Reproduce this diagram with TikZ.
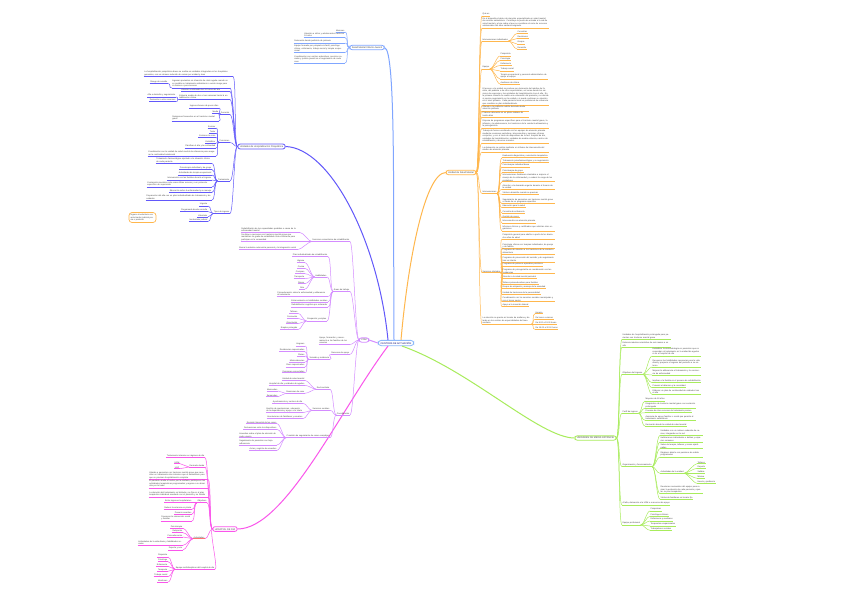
\documentclass[tikz,border=0pt]{standalone}
\usepackage{fontspec}
\newfontfamily\mapfont{Liberation Sans}
\definecolor{cSky}{RGB}{128,166,255}
\definecolor{cBlue}{RGB}{98,88,250}
\definecolor{cOrange}{RGB}{255,183,77}
\definecolor{cGreen}{RGB}{168,236,92}
\definecolor{cMagenta}{RGB}{250,85,235}
\definecolor{cViolet}{RGB}{212,140,255}
\definecolor{cRoot}{RGB}{140,185,250}
\definecolor{cInk}{RGB}{70,70,70}
\colorlet{br}{cSky}
\newcommand\leaffont{\mapfont\fontsize{2.1}{2.55}\selectfont}
\newcommand\topicfont{\mapfont\fontsize{2.4}{2.9}\selectfont}
\newcommand\lfL[5][]{%
  \node[leaf,anchor=south east,#1] (#3) at (#4) {#5};
  \draw[br,uline] (#3.south west) -- (#3.south east);
  \draw[br,link] (#2) .. controls +(-3.5,0) and +(3.5,0) .. (#3.south east);}
\newcommand\lfR[5][]{%
  \node[leaf,anchor=south west,#1] (#3) at (#4) {#5};
  \draw[br,uline] (#3.south west) -- (#3.south east);
  \draw[br,link] (#2) .. controls +(3.5,0) and +(-3.5,0) .. (#3.south west);}

\begin{document}
\begin{tikzpicture}[
  x=1pt,y=-1pt,
  leaf/.style={font=\leaffont,text=cInk,inner sep=0.45pt,align=left},
  tw/.style={text width=#1pt},
  uline/.style={line width=0.65pt},
  link/.style={line width=0.5pt},
  topic/.style={draw=#1,line width=0.8pt,rounded corners=2.2pt,fill=white,font=\topicfont,text=cInk,inner xsep=2pt,inner ysep=1.3pt},
  trunk/.style={line width=1pt}
]
  \fill[white] (0,0) rectangle (848,597);
  \useasboundingbox (0,0) rectangle (848,597);

  \node[draw=cRoot,line width=0.8pt,rounded corners=3pt,fill=white,font=\topicfont,text=blue!45!black,inner xsep=2.5pt,inner ysep=1.6pt] (root) at (396,343) {CENTROS DE ACTUACIÓN};
  \node[topic=cSky] (infantil) at (367,47.5) {Salud Mental Infanto-Juvenil};
  \node[topic=cBlue] (hosp) at (261.5,146.5) {Unidades de Hospitalización Psiquiátrica};
  \node[topic=cOrange] (usm) at (461,172.5) {Unidad de Salud Mental};
  \node[topic=cViolet] (csm) at (364,340) {CSM};
  \node[topic=cMagenta] (hdia) at (225,529) {HOSPITAL DE DÍA};
  \node[topic=cGreen] (mest) at (595.5,438) {UNIDADES DE MEDIA ESTANCIA};

  \draw[cSky,trunk] ([xshift=-2pt]root.north) .. controls (393,200) and (396,50) .. (infantil.east);
  \draw[cBlue,trunk] ([xshift=-8pt]root.north) .. controls (378,240) and (330,148) .. (hosp.east);
  \draw[cOrange,trunk] ([xshift=5pt]root.north) .. controls (408,260) and (425,173) .. (usm.west);
  \draw[cViolet,trunk] (root.west) .. controls (374,343) and (373,340) .. (csm.east);
  \draw[cMagenta,trunk] ([xshift=-8pt]root.south) .. controls (340,410) and (285,529) .. (hdia.east);
  \draw[cGreen,trunk] ([xshift=6pt]root.south) .. controls (470,370) and (540,438) .. (mest.west);

  % salud mental infanto-juvenil
  \colorlet{br}{cSky}
  \lfL{infantil.west}{inf1}{345,32}{Menores}
  \lfL[tw=40]{infantil.west}{inf2}{345,37.5}{Atención a niños y adolescentes hasta los 18 años}
  \lfL[tw=50]{infantil.west}{inf3}{345,43}{Derivación desde pediatría de primaria}
  \lfL[tw=50]{infantil.west}{inf4}{345,52.5}{Equipo formado por psiquiatra infantil, psicólogo clínico, enfermería, trabajo social y terapia ocupacional}
  \lfL[tw=50]{infantil.west}{inf5}{345,63}{Coordinación con centros educativos, servicios sociales y justicia juvenil en el seguimiento de cada caso}

  % hospitalizacion
  \colorlet{br}{cBlue}
  \lfL[tw=88]{hosp.west}{hos1}{233,76.5}{La hospitalización psiquiátrica breve se realiza en unidades integradas en los hospitales generales, con un número reducido de camas por unidad y área}
  \lfL[tw=57]{hosp.west}{hos2}{230,88}{Ingresan pacientes en situación de crisis aguda cuando no es posible su tratamiento ambulatorio o existe riesgo para sí mismos o para terceros}
  \lfL{hos2.south west}{hos2a}{168,83.5}{Riesgo de suicidio}
  \lfL[tw=48]{hosp.west}{hos3}{230,91.5}{Atención continuada las 24 horas del día}
  \lfL[tw=50]{hosp.west}{hos4}{230,99.5}{Estancia media de dos a tres semanas hasta la estabilización clínica}
  \lfL{hos4.south west}{hos4a}{176,97}{Alta a domicilio y seguimiento}
  \lfL{hos4.south west}{hos4b}{176,101.5}{Derivación a otros recursos}
  \lfL{hosp.west}{durac}{230,114.5}{Duración}
  \lfL{durac.south west}{dur1}{219,108}{Ingresos breves de pocos días}
  \lfL{durac.south west}{dur2}{219,113.5}{Media}
  \lfL[tw=46]{durac.south west}{dur3}{219,121}{Reingresos frecuentes en el trastorno mental grave}
  \lfL{hosp.west}{funcs}{230,142.5}{Funciones}
  \lfL{funcs.south west}{fun1}{216,128}{Evaluar}
  \lfL{funcs.south west}{fun2}{216,133}{Tratar}
  \lfL{funcs.south west}{fun3}{216,137.5}{Contener la crisis}
  \lfL{funcs.south west}{fun4}{216,143}{Estabilizar}
  \lfL{funcs.south west}{fun5}{216,148}{Planificar el alta y la continuidad}
  \lfL[tw=67]{funcs.south west}{fun6}{216,156}{Coordinación con la unidad de salud mental de referencia para asegurar la continuidad asistencial}
  \lfL{hosp.west}{trat}{230,181}{Tratamiento}
  \lfL[tw=55]{trat.south west}{tra1}{212,163.5}{Tratamiento farmacológico ajustado a la situación clínica de cada paciente}
  \lfL{trat.south west}{tra2}{212,169.5}{Psicoterapia individual y de grupo}
  \lfL{trat.south west}{tra3}{212,175}{Actividades de terapia ocupacional}
  \lfL{trat.south west}{tra4}{212,180}{Intervención con las familias durante el ingreso}
  \lfL[tw=64]{trat.south west}{tra5}{212,187}{Contención mecánica solo como último recurso y con protocolo específico de supervisión}
  \lfL{trat.south west}{tra6}{212,192.5}{Educación sobre la enfermedad y su manejo}
  \lfL[tw=65]{trat.south west}{tra7}{212,200}{Preparación del alta con un plan individualizado de tratamiento y de cuidados}
  \lfL{hosp.west}{tipos}{230,213.5}{Tipos de ingreso}
  \lfL{tipos.south west}{tip1}{208,206}{Urgente}
  \lfL{tipos.south west}{tip2}{208,211.5}{Programado desde consulta}
  \lfL{tipos.south west}{tip3}{208,217}{Voluntario}
  \lfL{tipos.south west}{tip4}{208,221.5}{Involuntario judicial}
  \node[draw=cOrange,line width=0.7pt,rounded corners=3pt,font=\leaffont,text=cInk,text width=24pt,align=left,inner sep=1.5pt] (nota) at (142.5,217.5) {Ingreso involuntario con autorización judicial previa o posterior};

  % unidad de salud mental
  \colorlet{br}{cOrange}
  \lfR{usm.east}{usm1}{482,16}{Qué es}
  \lfR[tw=66]{usm.east}{usm2}{482,28}{Es el dispositivo básico de atención especializada en salud mental, de carácter ambulatorio. Constituye la puerta de entrada a la red de salud mental y el eje sobre el que se coordinan el resto de recursos asistenciales del área sanitaria asignada.}
  \lfR{usm.east}{usm3}{482,41}{Intervenciones individuales}
  \lfR{usm3.south east}{int1}{517,33.5}{Consultas}
  \lfR{usm3.south east}{int2}{517,38.5}{Revisiones}
  \lfR{usm3.south east}{int3}{517,44}{Grupos}
  \lfR{usm3.south east}{int4}{517,49}{Domicilio}
  \lfR{usm.east}{equipo}{482,69}{Equipo}
  \lfR{equipo.south east}{equ1}{500,56}{Psiquiatría}
  \lfR{equipo.south east}{equ2}{500,60.5}{Psicología}
  \lfR{equipo.south east}{equ3}{500,65.5}{Enfermería}
  \lfR{equipo.south east}{equ4}{500,71}{Trabajo social}
  \lfR[tw=47]{equipo.south east}{equ5}{500,79}{Terapia ocupacional y personal administrativo de apoyo al equipo}
  \lfR{equipo.south east}{equ6}{500,84}{Auxiliares de clínica}
  \lfR[tw=66]{usm.east}{usm5}{482,105.5}{El acceso a la unidad se produce por derivación del médico de familia, del pediatra o de otros especialistas, así como desde los servicios de urgencias y las unidades de hospitalización tras el alta. En la primera consulta se realiza una valoración del paciente y se decide si precisa seguimiento en la unidad o si puede continuar su atención en el nivel primario. Cada paciente tiene un profesional de referencia que coordina su plan individualizado.}
  \lfR[tw=46]{usm.east}{usm6}{482,111}{Atiende a la población adulta derivada desde atención primaria}
  \lfR[tw=46]{usm.east}{usm7}{482,117}{Primera valoración en un plazo máximo de treinta días}
  \lfR[tw=66]{usm.east}{usm8}{482,128}{Dispone de programas específicos para el trastorno mental grave, la infancia y la adolescencia, los trastornos de la conducta alimentaria y la psicogeriatría}
  \lfR[tw=66]{usm.east}{usm9}{482,143}{Trabaja de forma coordinada con los equipos de atención primaria mediante reuniones periódicas, interconsultas y sesiones clínicas conjuntas, y con el resto de dispositivos de la red: hospital de día, unidades de hospitalización, unidades de media estancia, centros de rehabilitación y recursos sociales.}
  \lfR[tw=66]{usm.east}{usm10}{482,152}{La derivación se realiza mediante un informe de interconsulta del médico de atención primaria}
  \lfR{usm.east}{interv}{482,193.5}{Intervenciones}
  \lfR{interv.south east}{iv1}{502,157.7}{Evaluación diagnóstica y orientación terapéutica}
  \lfR{interv.south east}{iv2}{502,162.7}{Tratamiento psicofarmacológico y su seguimiento}
  \lfR{interv.south east}{iv3}{502,167}{Psicoterapia individual breve}
  \lfR{interv.south east}{iv4}{502,172.7}{Psicoterapia de grupo}
  \lfR[tw=52]{interv.south east}{iv5}{502,181.7}{Intervenciones familiares orientadas a mejorar el manejo de la enfermedad y a reducir la carga de los cuidadores}
  \lfR[tw=52]{interv.south east}{iv6}{502,189.3}{Atención a la demanda urgente durante el horario de la unidad}
  \lfR{interv.south east}{iv7}{502,194.3}{Visitas a domicilio cuando se precisan}
  \lfR[tw=52]{interv.south east}{iv8}{502,203.7}{Seguimiento de pacientes con trastorno mental grave a través de un programa específico}
  \lfR{interv.south east}{iv9}{502,207.7}{Educación para la salud}
  \lfR{interv.south east}{iv10}{502,213}{Consulta de enfermería}
  \lfR{interv.south east}{iv11}{502,217.7}{Gestión de casos}
  \lfR{interv.south east}{iv12}{502,223}{Interconsulta con atención primaria}
  \lfR[tw=52]{interv.south east}{iv13}{502,231}{Informes clínicos y certificados que solicitan otros organismos}
  \lfR{usm.east}{servic}{482,272.7}{Servicios ofertados}
  \lfR[tw=52]{servic.south east}{sv1}{502,239}{Psiquiatría general para adultos a partir de los dieciocho años de edad}
  \lfR[tw=52]{servic.south east}{sv2}{502,248.7}{Psicología clínica con terapias individuales, de pareja y de familia}
  \lfR[tw=52]{servic.south east}{sv3}{502,254}{Programa de atención a los trastornos de la conducta alimentaria}
  \lfR[tw=52]{servic.south east}{sv4}{502,262}{Programa de prevención del suicidio y de seguimiento tras un intento}
  \lfR{servic.south east}{sv5}{502,266}{Programa de primeros episodios psicóticos}
  \lfR[tw=52]{servic.south east}{sv6}{502,273.7}{Programa de psicogeriatría en coordinación con las residencias}
  \lfR{servic.south east}{sv7}{502,278.3}{Atención a la salud mental perinatal}
  \lfR{servic.south east}{sv8}{502,284.3}{Talleres psicoeducativos para familias}
  \lfR{servic.south east}{sv9}{502,288.3}{Grupos de relajación y manejo de la ansiedad}
  \lfR{servic.south east}{sv10}{502,294.3}{Unidad de trastornos de la personalidad}
  \lfR[tw=52]{servic.south east}{sv11}{502,301.7}{Coordinación con los servicios sociales municipales y con el tercer sector}
  \lfR{servic.south east}{sv12}{502,306.7}{Apoyo a la inserción laboral}
  \lfR[tw=48]{usm.east}{horar}{482,324.3}{La atención se presta en horario de mañana y de tarde en los centros de especialidades del área sanitaria}
  \lfR{horar.south east}{hr1}{535,313.7}{Horario}
  \lfR{horar.south east}{hr2}{535,319.3}{De lunes a viernes}
  \lfR{horar.south east}{hr3}{535,324.3}{De 8:00 a 15:00 horas}
  \lfR{horar.south east}{hr4}{535,329.3}{De 15:00 a 20:00 horas}

  % CSM
  \colorlet{br}{cViolet}
  \lfL{csm.west}{comun}{350,241.5}{Servicios comunitarios de rehabilitación}
  \lfL[tw=58]{comun.south west}{cm1}{300,232.5}{Rehabilitación de las capacidades perdidas a causa de la enfermedad mental}
  \lfL[tw=58]{comun.south west}{cm2}{300,241.5}{Se dirige a personas con trastorno mental grave que mantienen un grado de estabilidad clínica suficiente para participar en la comunidad}
  \lfL[tw=58]{comun.south west}{cm3}{298,249.5}{Busca la máxima autonomía personal y la integración social}
  \lfL{csm.west}{areas}{350,291.5}{Áreas de trabajo}
  \lfL{areas.south west}{ar1}{328,256.5}{Plan individualizado de rehabilitación}
  \lfL{areas.south west}{habil}{327,277}{Habilidades}
  \lfL{habil.south west}{hb1}{305,262.7}{Higiene}
  \lfL{habil.south west}{hb2}{305,268.3}{Cocina}
  \lfL{habil.south west}{hb3}{305,273.7}{Compras}
  \lfL{habil.south west}{hb4}{305,278.7}{Transporte}
  \lfL{habil.south west}{hb5}{305,283.7}{Dinero}
  \lfL{habil.south west}{hb6}{305,289}{Ocio}
  \lfL[tw=50]{areas.south west}{ar2}{328,296.5}{Psicoeducación sobre la enfermedad y adherencia al tratamiento}
  \lfL{areas.south west}{ar3}{328,302}{Entrenamiento en habilidades sociales}
  \lfL{areas.south west}{ar4}{328,307}{Rehabilitación cognitiva por ordenador}
  \lfL{areas.south west}{ocup}{327,321}{Ocupación y empleo}
  \lfL{ocup.south west}{oc1}{298,313.3}{Talleres}
  \lfL{ocup.south west}{oc2}{298,318.3}{Formación}
  \lfL{ocup.south west}{oc3}{298,323.7}{Orientación}
  \lfL{ocup.south west}{oc4}{298,329.7}{Empleo protegido}
  \lfL[tw=30]{csm.west}{famil}{350,344.5}{Apoyo, formación y asesoramiento a las familias de los usuarios}
  \lfL{csm.west}{apoyo}{350,354.3}{Recursos de apoyo}
  \lfL{apoyo.south west}{vivie}{330,359.3}{Vivienda y residencia}
  \lfL{vivie.south west}{vv1}{305,346}{Hogares}
  \lfL{vivie.south west}{vv2}{305,351.7}{Residencias supervisadas}
  \lfL{vivie.south west}{vv3}{305,356}{Plazas}
  \lfL{vivie.south west}{vv4}{305,362}{Miniresidencias}
  \lfL{vivie.south west}{vv5}{305,367}{Pisos supervisados}
  \lfL{vivie.south west}{vv6}{305,372.7}{Pensiones concertadas}
  \lfL{csm.west}{coord}{350,415}{Coordinación}
  \lfL{coord.south west}{sanid}{330,389.3}{Red sanitaria}
  \lfL{sanid.south west}{sa1}{305,380.3}{Unidad de salud mental}
  \lfL{sanid.south west}{sa2}{305,385.3}{Hospital de día y unidades de agudos}
  \lfL{sanid.south west}{reuni}{305,393.3}{Reuniones de caso}
  \lfL{reuni.south west}{re1}{278,391}{Mensuales}
  \lfL{reuni.south west}{re2}{278,396.7}{Semanales}
  \lfL{coord.south west}{socia}{330,410.3}{Servicios sociales}
  \lfL{socia.south west}{so1}{303,403.3}{Ayuntamientos y centros de día}
  \lfL[tw=36]{socia.south west}{so2}{303,412.7}{Gestión de prestaciones, valoración de la dependencia y apoyo a la tutela}
  \lfL{socia.south west}{so3}{303,418.7}{Asociaciones de familiares y usuarios}
  \lfL{coord.south west}{comis}{330,437.7}{Comisión de seguimiento de casos complejos}
  \lfL{comis.south west}{co1}{277,423.7}{Revisión trimestral de los casos}
  \lfL{comis.south west}{co2}{277,429.3}{Derivaciones entre los dispositivos}
  \lfL[tw=37]{comis.south west}{co3}{277,437.7}{Acuerdos sobre el plan de atención de cada usuario}
  \lfL[tw=37]{comis.south west}{co4}{277,445}{Seguimiento de pacientes con baja adherencia}
  \lfL{comis.south west}{co5}{277,450.3}{Actas y registro de acuerdos}

  % hospital de dia
  \colorlet{br}{cMagenta}
  \lfL{hdia.west}{hd1}{205,457.7}{Tratamiento intensivo en régimen de día}
  \lfL{hdia.west}{deriv}{205,467}{Derivado desde}
  \lfL{deriv.south west}{dv1}{180,463.7}{USM}
  \lfL{deriv.south west}{dv2}{180,468.7}{UHP}
  \lfL[tw=58]{hdia.west}{hd2}{208,479.5}{Atiende a pacientes con trastorno mental grave que necesitan un tratamiento más intensivo que el ambulatorio pero que no precisan hospitalización completa}
  \lfL[tw=58]{hdia.west}{hd3}{208,488}{El paciente acude al centro por la mañana, participa en las actividades terapéuticas programadas y regresa a su domicilio por la tarde}
  \lfL[tw=58]{hdia.west}{hd4}{208,497}{La duración del tratamiento es limitada y se fija en el plan terapéutico individual acordado con el paciente y su familia}
  \lfL{hdia.west}{objet}{207,502.7}{Objetivos}
  \lfL{objet.south west}{ob1}{192,502.7}{Evitar ingresos hospitalarios}
  \lfL{objet.south west}{ob2}{192,509.3}{Reducir la estancia en planta}
  \lfL{objet.south west}{ob3}{192,514.3}{Prevenir recaídas}
  \lfL[tw=30]{objet.south west}{ob4}{192,521}{Favorecer la reinserción social y familiar}
  \lfL{hdia.west}{activ}{205,538.7}{Actividades}
  \draw[red!55,line width=0.9pt] (activ.south west) -- (activ.south east);
  \lfL{activ.south west}{ac1}{183,528.3}{Psicoterapia}
  \lfL{activ.south west}{ac2}{183,532.7}{Relajación}
  \lfL{activ.south west}{ac3}{183,537}{Psicoeducación}
  \lfL[tw=44]{activ.south west}{ac4}{183,545.3}{Actividades de la vida diaria y habilidades sociales}
  \lfL{activ.south west}{ac5}{183,550}{Deporte y ocio}
  \lfL{hdia.west}{eqhd}{215,569.3}{Equipo multidisciplinar del hospital de día}
  \lfL{eqhd.south west}{eh1}{168,557}{Psiquiatra}
  \lfL{eqhd.south west}{eh2}{168,561.7}{Psicólogo}
  \lfL{eqhd.south west}{eh3}{168,566.3}{Enfermería}
  \lfL{eqhd.south west}{eh4}{168,571.3}{Terapeuta}
  \lfL{eqhd.south west}{eh5}{168,576.7}{Trabajo social}
  \lfL{eqhd.south west}{eh6}{168,582}{Monitores}

  % media estancia
  \colorlet{br}{cGreen}
  \lfR[tw=48]{mest.east}{me1}{622,339.3}{Unidades de hospitalización prolongada para pacientes con trastorno mental grave}
  \lfR[tw=48]{mest.east}{me2}{622,347}{Estancia máxima orientativa de seis meses a un año}
  \lfR{mest.east}{objme}{622,374.3}{Objetivos del ingreso}
  \lfR[tw=48]{objme.south east}{om1}{652,356}{Estabilizar la sintomatología en pacientes que no responden al tratamiento en la unidad de agudos ni en el hospital de día}
  \lfR[tw=48]{objme.south east}{om2}{652,367}{Recuperar las habilidades necesarias para la vida diaria y preparar el regreso del paciente a su entorno}
  \lfR[tw=48]{objme.south east}{om3}{652,375}{Mejorar la adherencia al tratamiento y la conciencia de enfermedad}
  \lfR[tw=48]{objme.south east}{om4}{652,382.7}{Implicar a la familia en el proceso de rehabilitación}
  \lfR{objme.south east}{om5}{652,387.7}{Prevenir el deterioro y la cronicidad}
  \lfR[tw=48]{objme.south east}{om6}{652,394.3}{Elaborar un plan de continuidad de cuidados tras el alta}
  \lfR{mest.east}{perfil}{622,413.3}{Perfil de ingreso}
  \lfR{perfil.south east}{pf1}{645,401}{Mayores de 18 años}
  \lfR[tw=50]{perfil.south east}{pf2}{645,408.3}{Diagnóstico de trastorno mental grave con evolución prolongada}
  \lfR{perfil.south east}{pf3}{645,412.7}{Fracaso de otros recursos de tratamiento previos}
  \lfR[tw=50]{perfil.south east}{pf4}{645,420.3}{Ausencia de apoyo familiar o social que permita el tratamiento ambulatorio}
  \lfR{perfil.south east}{pf5}{645,426}{Derivación desde la unidad de salud mental}
  \lfR{mest.east}{organ}{622,466.7}{Organización y funcionamiento}
  \lfR[tw=42]{organ.south east}{or1}{660,435.3}{Unidades con un número reducido de camas, integradas en la red}
  \lfR[tw=42]{organ.south east}{or2}{660,442}{Habitaciones individuales o dobles y espacios comunes}
  \lfR[tw=42]{organ.south east}{or3}{660,448.7}{Salas de terapia, talleres y zonas ajardinadas}
  \lfR[tw=42]{organ.south east}{or4}{660,457}{Régimen abierto con permisos de salida programados}
  \lfR{organ.south east}{actme}{660,473.3}{Actividades de la unidad}
  \lfR{actme.south east}{at1}{697,463.7}{Talleres}
  \lfR{actme.south east}{at2}{697,468.3}{Deporte}
  \lfR{actme.south east}{at3}{697,473.3}{Salidas}
  \lfR{actme.south east}{at4}{697,478.3}{Música}
  \lfR{actme.south east}{at5}{697,483.3}{Huerto y jardinería}
  \lfR[tw=42]{organ.south east}{or5}{660,493.7}{Reuniones semanales del equipo para revisar la evolución de cada paciente y ajustar su plan terapéutico}
  \lfR{organ.south east}{or6}{660,499.3}{Visitas de familiares en horario fijo}
  \lfR{mest.east}{me3}{622,505}{Al alta, derivación a la USM o a recursos de apoyo}
  \lfR{mest.east}{eqme}{622,525}{Equipo profesional}
  \lfR{eqme.south east}{eq1}{650,511}{Psiquiatras}
  \lfR{eqme.south east}{eq2}{650,516.3}{Psicólogos clínicos}
  \lfR{eqme.south east}{eq3}{650,521}{Enfermeras y auxiliares}
  \lfR{eqme.south east}{eq4}{650,526}{Terapeutas ocupacionales}
  \lfR{eqme.south east}{eq5}{650,530.3}{Trabajadores sociales}
\end{tikzpicture}
\end{document}
